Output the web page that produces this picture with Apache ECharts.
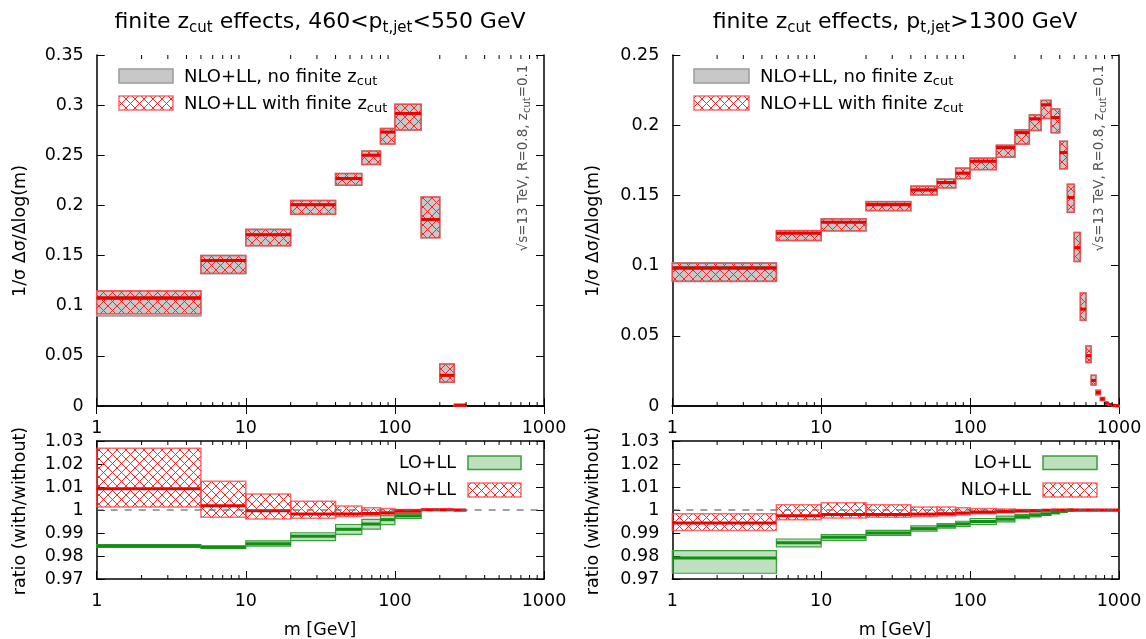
<!DOCTYPE html>
<html>
<head>
<meta charset="UTF-8">
<title>finite zcut effects</title>
<script src="https://cdn.jsdelivr.net/npm/echarts@6/dist/echarts.min.js"></script>
<style>
html,body{margin:0;padding:0;background:#fff;}
#main{width:1146px;height:639px;}
</style>
</head>
<body>
<div id="main"></div>
<script type="text/javascript">
// bin edges in m [GeV]
var edgesL = [1, 5, 10, 20, 40, 60, 80, 100, 150, 200, 250, 300];
var edgesR = [1, 5, 10, 20, 40, 60, 80, 100, 150, 200, 250, 300, 350, 400, 450, 500, 550, 600, 650, 700, 750, 800, 850, 900, 950, 1000];
var minorTicks = [2, 3, 4, 5, 6, 7, 8, 9, 20, 30, 40, 50, 60, 70, 80, 90, 200, 300, 400, 500, 600, 700, 800, 900];

// 460 < pt,jet < 550 GeV : NLO+LL without finite zcut (grey)
var noL   = [0.107, 0.1447, 0.1707, 0.2009, 0.2272, 0.2504, 0.2734, 0.2918, 0.186, 0.0306, 0.0008];
var noLlo = [0.0898, 0.1318, 0.1597, 0.1913, 0.2202, 0.2408, 0.2612, 0.2751, 0.1677, 0.0236, 0.0];
var noLhi = [0.1145, 0.150, 0.1762, 0.2049, 0.2318, 0.2542, 0.2768, 0.301, 0.2083, 0.0419, 0.0015];
// with finite zcut (red hatch)
var fzL   = [0.108, 0.145, 0.1707, 0.2006, 0.2268, 0.250, 0.2731, 0.2917, 0.186, 0.0306, 0.0008];
var fzLlo = [0.092, 0.1324, 0.1597, 0.1913, 0.2202, 0.2408, 0.2612, 0.2751, 0.1677, 0.0236, 0.0];
var fzLhi = [0.115, 0.150, 0.176, 0.2049, 0.2318, 0.2542, 0.2768, 0.301, 0.2083, 0.0419, 0.0015];

// pt,jet > 1300 GeV
var noR   = [0.0988, 0.1233, 0.1311, 0.1437, 0.1541, 0.1594, 0.166, 0.1745, 0.1841, 0.1948, 0.2046, 0.2146, 0.2054, 0.1805, 0.1485, 0.1127, 0.069, 0.0358, 0.0182, 0.0096, 0.005, 0.0021, 0.001, 0.0005, 0.0002];
var noRlo = [0.089, 0.118, 0.1248, 0.1393, 0.1505, 0.1555, 0.1621, 0.1685, 0.1773, 0.1866, 0.1963, 0.2048, 0.1947, 0.169, 0.138, 0.103, 0.0611, 0.031, 0.015, 0.008, 0.004, 0.0016, 0.0007, 0.0003, 0.0001];
var noRhi = [0.1021, 0.125, 0.1334, 0.1457, 0.1567, 0.1617, 0.1695, 0.1767, 0.1858, 0.1967, 0.2074, 0.2177, 0.2116, 0.1885, 0.1579, 0.1235, 0.0805, 0.0427, 0.0219, 0.0112, 0.006, 0.0026, 0.0013, 0.0007, 0.0003];
var fzR   = [0.0982, 0.123, 0.1308, 0.1434, 0.1538, 0.1591, 0.1658, 0.1743, 0.184, 0.1947, 0.2045, 0.2145, 0.2054, 0.1805, 0.1485, 0.1127, 0.069, 0.0358, 0.0182, 0.0096, 0.005, 0.0021, 0.001, 0.0005, 0.0002];
var fzRlo = [0.0887, 0.1177, 0.1246, 0.1391, 0.1503, 0.1553, 0.1619, 0.1683, 0.1772, 0.1865, 0.1962, 0.2047, 0.1947, 0.169, 0.138, 0.103, 0.0611, 0.031, 0.015, 0.008, 0.004, 0.0016, 0.0007, 0.0003, 0.0001];
var fzRhi = [0.1016, 0.1248, 0.1332, 0.1455, 0.1565, 0.1615, 0.1693, 0.1765, 0.1857, 0.1966, 0.2073, 0.2176, 0.2116, 0.1885, 0.1579, 0.1235, 0.0805, 0.0427, 0.0219, 0.0112, 0.006, 0.0026, 0.0013, 0.0007, 0.0003];

// ratios (with/without), left panel
var rNloL   = [1.0092, 1.0019, 0.9997, 0.9983, 0.9983, 0.9985, 0.9988, 0.9996, 1.0001, 1.0001, 1.0];
var rNloLlo = [1.0013, 0.9969, 0.9961, 0.9964, 0.9972, 0.9975, 0.9978, 0.999, 0.9998, 0.9999, 1.0];
var rNloLhi = [1.0268, 1.0125, 1.007, 1.0038, 1.0017, 1.001, 1.0006, 1.0002, 1.0003, 1.0002, 1.0];
var rLoL    = [0.9844, 0.9838, 0.9853, 0.9886, 0.9916, 0.9939, 0.9958, 0.9975];
var rLoLlo  = [0.9837, 0.9833, 0.9843, 0.9867, 0.9894, 0.9917, 0.9936, 0.9964];
var rLoLhi  = [0.985, 0.9844, 0.9866, 0.9901, 0.9937, 0.9959, 0.9975, 0.9985];

// ratios, right panel
var rNloR   = [0.9943, 0.9975, 0.998, 0.998, 0.9982, 0.9984, 0.9987, 0.9991, 0.9994, 0.9996, 0.9997, 0.9999, 1.0, 1.0, 1.0, 1.0, 1.0, 1.0, 1.0, 1.0, 1.0, 1.0, 1.0, 1.0, 1.0];
var rNloRlo = [0.9911, 0.9958, 0.9965, 0.9969, 0.9972, 0.9975, 0.9978, 0.9984, 0.9988, 0.9992, 0.9994, 0.9997, 0.9999, 1.0, 1.0, 1.0, 1.0, 1.0, 1.0, 1.0, 1.0, 1.0, 1.0, 1.0, 1.0];
var rNloRhi = [0.9984, 1.0023, 1.0032, 1.0023, 1.0013, 1.0013, 1.001, 1.0006, 1.0004, 1.0002, 1.0001, 1.0001, 1.0, 1.0, 1.0, 1.0, 1.0, 1.0, 1.0, 1.0, 1.0, 1.0, 1.0, 1.0, 1.0];
var rLoR    = [0.9791, 0.9858, 0.9881, 0.99, 0.9919, 0.9931, 0.994, 0.995, 0.996, 0.9971, 0.9978, 0.9982, 0.9988, 0.9994, 1.0];
var rLoRlo  = [0.9725, 0.984, 0.9868, 0.989, 0.9908, 0.9921, 0.9929, 0.9937, 0.9948, 0.9962, 0.997, 0.9977, 0.9984, 0.9991, 1.0];
var rLoRhi  = [0.9823, 0.9874, 0.9893, 0.9911, 0.9931, 0.9941, 0.9951, 0.9963, 0.9973, 0.998, 0.9987, 0.9988, 0.9992, 0.9997, 1.0];

var FONT = 'DejaVu Sans';

// red cross hatch
var hc = document.createElement('canvas');
hc.width = 9; hc.height = 9;
var hx = hc.getContext('2d');
hx.strokeStyle = 'rgba(255,30,30,0.95)';
hx.lineWidth = 1;
hx.beginPath();
hx.moveTo(0, 0); hx.lineTo(9, 9);
hx.moveTo(9, 0); hx.lineTo(0, 9);
hx.stroke();
var hatch = { image: hc, repeat: 'repeat' };

function bins(edges, c, lo, hi) {
    var out = [];
    for (var i = 0; i < c.length; i++) out.push([edges[i], edges[i + 1], lo[i], hi[i], c[i]]);
    return out;
}

function boxSeries(xi, data, fill, stroke, lw, lineColor, lineW) {
    return {
        type: 'custom', xAxisIndex: xi, yAxisIndex: xi, silent: true,
        encode: { x: [0, 1], y: [2, 3, 4] },
        data: data,
        renderItem: function (params, api) {
            var a = api.coord([api.value(0), api.value(3)]);
            var b = api.coord([api.value(1), api.value(2)]);
            var c0 = api.coord([api.value(0), api.value(4)]);
            var c1 = api.coord([api.value(1), api.value(4)]);
            return {
                type: 'group', children: [
                    { type: 'rect', shape: { x: a[0], y: a[1], width: b[0] - a[0], height: Math.max(b[1] - a[1], 1) },
                      style: { fill: fill, stroke: stroke, lineWidth: lw } },
                    { type: 'line', shape: { x1: c0[0], y1: c0[1], x2: c1[0], y2: c1[1] },
                      style: { stroke: lineColor, lineWidth: lineW } }
                ]
            };
        }
    };
}

function minorSeries(xi, ymin) {
    return {
        type: 'custom', xAxisIndex: xi, yAxisIndex: xi, silent: true, z: 10,
        data: minorTicks.map(function (m) { return [m, ymin]; }),
        renderItem: function (params, api) {
            var cs = params.coordSys;
            var x = api.coord([api.value(0), api.value(1)])[0];
            return {
                type: 'group', children: [
                    { type: 'line', shape: { x1: x, y1: cs.y + cs.height, x2: x, y2: cs.y + cs.height - 4 }, style: { stroke: '#000', lineWidth: 1 } },
                    { type: 'line', shape: { x1: x, y1: cs.y, x2: x, y2: cs.y + 4 }, style: { stroke: '#000', lineWidth: 1 } }
                ]
            };
        }
    };
}

function dashSeries(xi) {
    return {
        type: 'line', xAxisIndex: xi, yAxisIndex: xi, silent: true, symbol: 'none',
        data: [[1, 1], [1000, 1]],
        lineStyle: { color: '#666', width: 1.2, type: [7, 7] }
    };
}

var grids = [
    { left: 96.7, top: 55, width: 447.3, height: 351 },
    { left: 96.7, top: 441, width: 447.3, height: 138 },
    { left: 672.3, top: 55, width: 446.7, height: 351 },
    { left: 672.3, top: 441, width: 446.7, height: 138 }
];

var xAxes = [], yAxes = [];
var yRanges = [[0, 0.35, 0.05], [0.97, 1.03, 0.01], [0, 0.25, 0.05], [0.97, 1.03, 0.01]];
for (var g = 0; g < 4; g++) {
    xAxes.push({
        type: 'log', logBase: 10, gridIndex: g, min: 1, max: 1000, splitNumber: 3, position: 'bottom',
        axisLine: { lineStyle: { color: '#000', width: 1.5 } },
        axisTick: { inside: true, length: 8, lineStyle: { color: '#000' } },
        axisLabel: { color: '#000', fontSize: 17.5, fontFamily: FONT, margin: (g % 2 === 0) ? 13 : 13,
            formatter: function (v) { return String(Math.round(v)); } },
        splitLine: { show: false }
    });
    xAxes.push({
        type: 'log', logBase: 10, gridIndex: g, min: 1, max: 1000, splitNumber: 3, position: 'top',
        axisLine: { lineStyle: { color: '#000', width: 1.5 } },
        axisTick: { inside: true, length: 8, lineStyle: { color: '#000' } },
        axisLabel: { show: false },
        splitLine: { show: false }
    });
}
for (var g2 = 0; g2 < 4; g2++) {
    var r = yRanges[g2];
    yAxes.push({
        type: 'value', gridIndex: g2, min: r[0], max: r[1], interval: r[2], position: 'left',
        axisLine: { show: true, lineStyle: { color: '#000', width: 1.5 } },
        axisTick: { show: true, inside: true, length: 8, lineStyle: { color: '#000' } },
        axisLabel: { color: '#000', fontSize: 17.5, fontFamily: FONT, margin: 13,
            formatter: function (v) { return String(+v.toFixed(2)); } },
        splitLine: { show: false }
    });
    yAxes.push({
        type: 'value', gridIndex: g2, min: r[0], max: r[1], interval: r[2], position: 'right',
        axisLine: { show: true, lineStyle: { color: '#000', width: 1.5 } },
        axisTick: { show: true, inside: true, length: 8, lineStyle: { color: '#000' } },
        axisLabel: { show: false },
        splitLine: { show: false }
    });
}
// grid g uses xAxis 2g and yAxis 2g
function ax(g) { return 2 * g; }

var greyFill = '#c8c8c8', greyEdge = '#9a9a9a';
var redEdge = 'rgba(255,60,60,0.75)', redLine = '#ee0000';
var greenFill = 'rgba(70,165,70,0.35)', greenEdge = '#3a9e3a', greenLine = '#109010';

var series = [
    boxSeries(ax(0), bins(edgesL, noL, noLlo, noLhi), greyFill, greyEdge, 1.5, '#444', 2),
    boxSeries(ax(0), bins(edgesL, fzL, fzLlo, fzLhi), hatch, redEdge, 1.5, redLine, 3),
    dashSeries(ax(1)),
    boxSeries(ax(1), bins(edgesL, rLoL, rLoLlo, rLoLhi), greenFill, greenEdge, 1.2, greenLine, 3),
    boxSeries(ax(1), bins(edgesL, rNloL, rNloLlo, rNloLhi), hatch, redEdge, 1.5, redLine, 3),
    boxSeries(ax(2), bins(edgesR, noR, noRlo, noRhi), greyFill, greyEdge, 1.5, '#444', 2),
    boxSeries(ax(2), bins(edgesR, fzR, fzRlo, fzRhi), hatch, redEdge, 1.5, redLine, 3),
    dashSeries(ax(3)),
    boxSeries(ax(3), bins(edgesR, rLoR, rLoRlo, rLoRhi), greenFill, greenEdge, 1.2, greenLine, 3),
    boxSeries(ax(3), bins(edgesR, rNloR, rNloRlo, rNloRhi), hatch, redEdge, 1.5, redLine, 3),
    minorSeries(ax(0), 0), minorSeries(ax(1), 0.97), minorSeries(ax(2), 0), minorSeries(ax(3), 0.97)
];

var rich = {
    n: { fontSize: 22, fontFamily: FONT, lineHeight: 28 },
    s: { fontSize: 15, fontFamily: FONT, lineHeight: 15, verticalAlign: 'bottom' }
};
var richL = {
    n: { fontSize: 18, fontFamily: FONT, lineHeight: 23 },
    s: { fontSize: 13, fontFamily: FONT, lineHeight: 13, verticalAlign: 'bottom' }
};
var richV = {
    n: { fontSize: 13.5, fontFamily: FONT, lineHeight: 18, fill: '#555' },
    s: { fontSize: 10, fontFamily: FONT, lineHeight: 10, verticalAlign: 'bottom', fill: '#555' }
};

function txt(x, y, text, r, align, rot) {
    return { type: 'text', x: x, y: y, rotation: rot || 0, silent: true,
        style: { text: text, rich: r, align: align || 'center', verticalAlign: 'middle' } };
}
function plain(x, y, text, size, align, rot) {
    return { type: 'text', x: x, y: y, rotation: rot || 0, silent: true,
        style: { text: text, fontSize: size, fontFamily: FONT, fill: '#000', align: align || 'center', verticalAlign: 'middle' } };
}
function box(x, y, w, h, fill, stroke) {
    return { type: 'rect', silent: true, shape: { x: x, y: y, width: w, height: h }, style: { fill: fill, stroke: stroke, lineWidth: 1.5 } };
}

var graphics = [
    txt(320, 22, '{n|finite z}{s|cut}{n| effects, 460<p}{s|t,jet}{n|<550 GeV}', rich),
    txt(895, 22, '{n|finite z}{s|cut}{n| effects, p}{s|t,jet}{n|>1300 GeV}', rich),
    // legends, upper panels
    box(119, 69, 54, 14, greyFill, greyEdge),
    txt(184, 77, '{n|NLO+LL, no finite z}{s|cut}', richL, 'left'),
    box(119, 96, 54, 14, hatch, redEdge),
    txt(184, 104, '{n|NLO+LL with finite z}{s|cut}', richL, 'left'),
    box(694, 69, 55, 14, greyFill, greyEdge),
    txt(760, 77, '{n|NLO+LL, no finite z}{s|cut}', richL, 'left'),
    box(694, 96, 55, 14, hatch, redEdge),
    txt(760, 104, '{n|NLO+LL with finite z}{s|cut}', richL, 'left'),
    // legends, ratio panels
    plain(456, 463, 'LO+LL', 17.5, 'right'),
    box(468, 456, 53, 13.5, greenFill, greenEdge),
    plain(456, 490, 'NLO+LL', 17.5, 'right'),
    box(468, 483, 53, 14, hatch, redEdge),
    plain(1031, 463, 'LO+LL', 17.5, 'right'),
    box(1043, 456, 54, 13.5, greenFill, greenEdge),
    plain(1031, 490, 'NLO+LL', 17.5, 'right'),
    box(1043, 483, 54, 14, hatch, redEdge),
    // vertical info text
    txt(523, 158, '{n|√s=13 TeV, R=0.8, z}{s|cut}{n|=0.1}', richV, 'center', Math.PI / 2),
    txt(1099, 158, '{n|√s=13 TeV, R=0.8, z}{s|cut}{n|=0.1}', richV, 'center', Math.PI / 2),
    // axis titles
    plain(20, 231, '1/σ Δσ/Δlog(m)', 17.5, 'center', Math.PI / 2),
    plain(20, 511, 'ratio (with/without)', 17.5, 'center', Math.PI / 2),
    plain(593, 231, '1/σ Δσ/Δlog(m)', 17.5, 'center', Math.PI / 2),
    plain(593, 511, 'ratio (with/without)', 17.5, 'center', Math.PI / 2),
    plain(320, 630, 'm [GeV]', 17.5),
    plain(895, 630, 'm [GeV]', 17.5)
];

var myChart = echarts.init(document.getElementById('main'));
myChart.setOption({
    animation: false,
    backgroundColor: '#fff',
    grid: grids,
    xAxis: xAxes,
    yAxis: yAxes,
    series: series,
    graphic: graphics
});
</script>
</body>
</html>
